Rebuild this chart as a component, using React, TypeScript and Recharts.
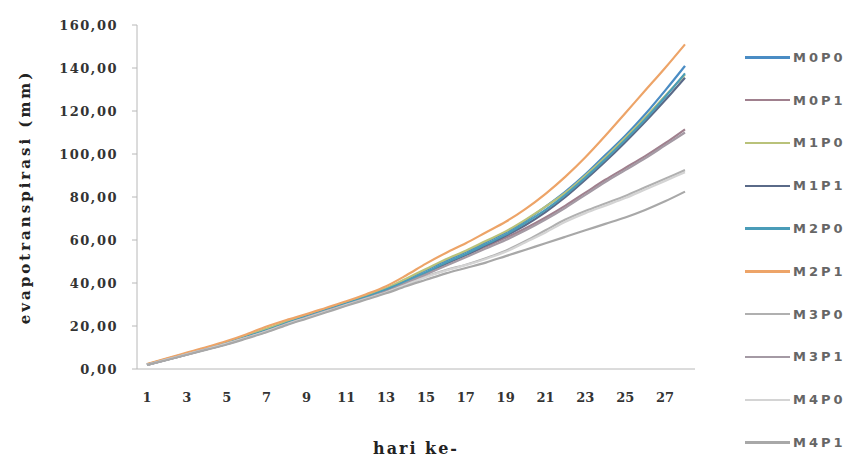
import React from 'react';
import { LineChart, Line, XAxis, YAxis } from 'recharts';

// hari ke- 1..28
const days = [1, 2, 3, 4, 5, 6, 7, 8, 9, 10, 11, 12, 13, 14, 15, 16, 17, 18, 19, 20, 21, 22, 23, 24, 25, 26, 27, 28];

const M0P0 = [2.1, 4.6, 7.2, 9.8, 12.3, 15.2, 18.3, 21.8, 24.8, 27.8, 30.8, 33.9, 37.3, 41.5, 46.0, 50.5, 54.5, 59.0, 63.5, 69.0, 75.5, 82.5, 90.5, 99.5, 108.5, 118.5, 129.5, 141.0];
const M0P1 = [2.0, 4.4, 6.9, 9.4, 11.9, 14.8, 17.8, 21.2, 24.2, 27.2, 30.2, 33.2, 36.5, 40.5, 44.5, 49.0, 53.0, 57.0, 61.0, 65.5, 70.5, 76.0, 82.0, 88.0, 93.5, 99.0, 105.0, 111.5];
const M1P0 = [2.2, 4.7, 7.3, 9.9, 12.5, 15.5, 18.8, 22.0, 25.0, 28.0, 31.0, 34.0, 37.5, 42.0, 46.5, 51.0, 55.0, 59.5, 64.0, 69.5, 75.5, 82.0, 90.0, 98.5, 107.5, 117.0, 127.0, 137.0];
const M1P1 = [1.9, 4.3, 6.8, 9.2, 11.7, 14.6, 17.6, 21.0, 24.0, 27.0, 30.0, 33.0, 36.5, 40.3, 44.5, 49.0, 53.0, 57.5, 62.0, 67.0, 73.0, 80.0, 88.0, 96.5, 105.5, 115.0, 125.0, 135.5];
const M2P0 = [2.0, 4.5, 7.0, 9.5, 12.0, 15.0, 18.0, 21.4, 24.5, 27.5, 30.5, 33.5, 37.0, 40.8, 45.0, 49.5, 53.5, 58.0, 62.5, 68.0, 74.0, 81.0, 89.0, 97.5, 106.5, 116.0, 126.5, 137.5];
const M2P1 = [2.3, 5.0, 7.6, 10.2, 13.0, 16.2, 19.8, 22.8, 25.5, 28.5, 31.5, 34.8, 38.5, 43.5, 49.0, 54.0, 58.5, 63.5, 68.5, 74.5, 81.5, 89.5, 98.5, 108.5, 119.0, 129.5, 140.0, 151.0];
const M3P0 = [2.0, 4.4, 6.8, 9.3, 11.8, 14.6, 17.5, 20.9, 23.9, 26.9, 29.9, 32.8, 35.8, 39.5, 43.0, 46.0, 48.5, 51.5, 55.0, 59.5, 64.5, 69.5, 73.5, 77.0, 80.5, 84.5, 88.5, 92.5];
const M3P1 = [1.9, 4.3, 6.7, 9.2, 11.6, 14.5, 17.4, 20.8, 23.8, 26.8, 29.8, 32.8, 36.0, 40.0, 44.0, 48.0, 52.0, 56.0, 60.0, 64.5, 69.5, 75.0, 81.0, 87.0, 92.5, 98.0, 104.0, 110.0];
const M4P0 = [2.0, 4.4, 6.8, 9.2, 11.7, 14.5, 17.4, 20.7, 23.7, 26.7, 29.7, 32.6, 35.6, 39.2, 42.8, 45.8, 48.3, 51.2, 54.5, 59.0, 63.5, 68.5, 72.5, 76.0, 79.5, 83.5, 87.5, 91.5];
const M4P1 = [1.9, 4.2, 6.6, 9.0, 11.4, 14.2, 17.1, 20.4, 23.4, 26.4, 29.4, 32.3, 35.2, 38.5, 41.5, 44.5, 47.0, 49.5, 52.5, 55.5, 58.5, 61.5, 64.5, 67.5, 70.5, 74.0, 78.0, 82.5];

const yTicks = [0, 20, 40, 60, 80, 100, 120, 140, 160];

const series = [
  { name: 'M0P0', values: M0P0, color: '#4a8cc4' },
  { name: 'M0P1', values: M0P1, color: '#a0808e' },
  { name: 'M1P0', values: M1P0, color: '#b9c27a' },
  { name: 'M1P1', values: M1P1, color: '#5a6a88' },
  { name: 'M2P0', values: M2P0, color: '#4a9cb8' },
  { name: 'M2P1', values: M2P1, color: '#eda468' },
  { name: 'M3P0', values: M3P0, color: '#b0b0b0' },
  { name: 'M3P1', values: M3P1, color: '#a49aa4' },
  { name: 'M4P0', values: M4P0, color: '#d4d4d4' },
  { name: 'M4P1', values: M4P1, color: '#a8a8a8' },
];

const data = days.map((d, i) => {
  const row: Record<string, number> = { day: d };
  series.forEach((s) => {
    row[s.name] = s.values[i];
  });
  return row;
});

const serif = '"DejaVu Serif", "Liberation Serif", serif';
const fmt = (v: number) => v.toFixed(2).replace('.', ',');

const App = () => (
  <div style={{ position: 'absolute', left: 0, top: 0, width: 852, height: 466, background: '#fff' }}>
    <LineChart width={852} height={466} data={data} margin={{ top: 25, right: 157, bottom: 67, left: 0 }}>
      <XAxis
        dataKey="day"
        interval={1}
        padding={{ left: 10, right: 10 }}
        height={30}
        tickLine={false}
        tickMargin={18}
        axisLine={{ stroke: '#b8b8b8' }}
        tick={{ fontSize: 13, fill: '#333', fontFamily: serif, fontWeight: 'bold' }}
        label={{ value: 'hari ke-', position: 'bottom', offset: 44, style: { fontSize: 16, fill: '#222', fontFamily: serif, fontWeight: 'bold', letterSpacing: 2 } }}
      />
      <YAxis
        width={137}
        domain={[0, 160]}
        ticks={yTicks}
        tickFormatter={fmt}
        tickSize={5}
        tickMargin={14}
        axisLine={{ stroke: '#b8b8b8' }}
        tickLine={{ stroke: '#b8b8b8' }}
        tick={{ fontSize: 13, fill: '#333', fontFamily: serif, fontWeight: 'bold', letterSpacing: 1.5 }}
        label={{ value: 'evapotranspirasi (mm)', angle: -90, position: 'insideLeft', offset: 25, style: { textAnchor: 'middle', fontSize: 15, fill: '#222', fontFamily: serif, fontWeight: 'bold', letterSpacing: 3 } }}
      />
      {series.map((s) => (
        <Line
          key={s.name}
          type="monotone"
          dataKey={s.name}
          stroke={s.color}
          strokeWidth={2.2}
          dot={false}
          isAnimationActive={false}
        />
      ))}
    </LineChart>
    <div style={{ position: 'absolute', left: 745, top: 36, width: 107 }}>
      {series.map((s) => (
        <div key={s.name} style={{ display: 'flex', alignItems: 'center', height: 42.8 }}>
          <div style={{ width: 45, height: 2.5, background: s.color }} />
          <span style={{ marginLeft: 3, fontFamily: '"DejaVu Sans", sans-serif', fontSize: 13, fontWeight: 'bold', color: '#666', letterSpacing: 3 }}>
            {s.name}
          </span>
        </div>
      ))}
    </div>
  </div>
);

export default App;
